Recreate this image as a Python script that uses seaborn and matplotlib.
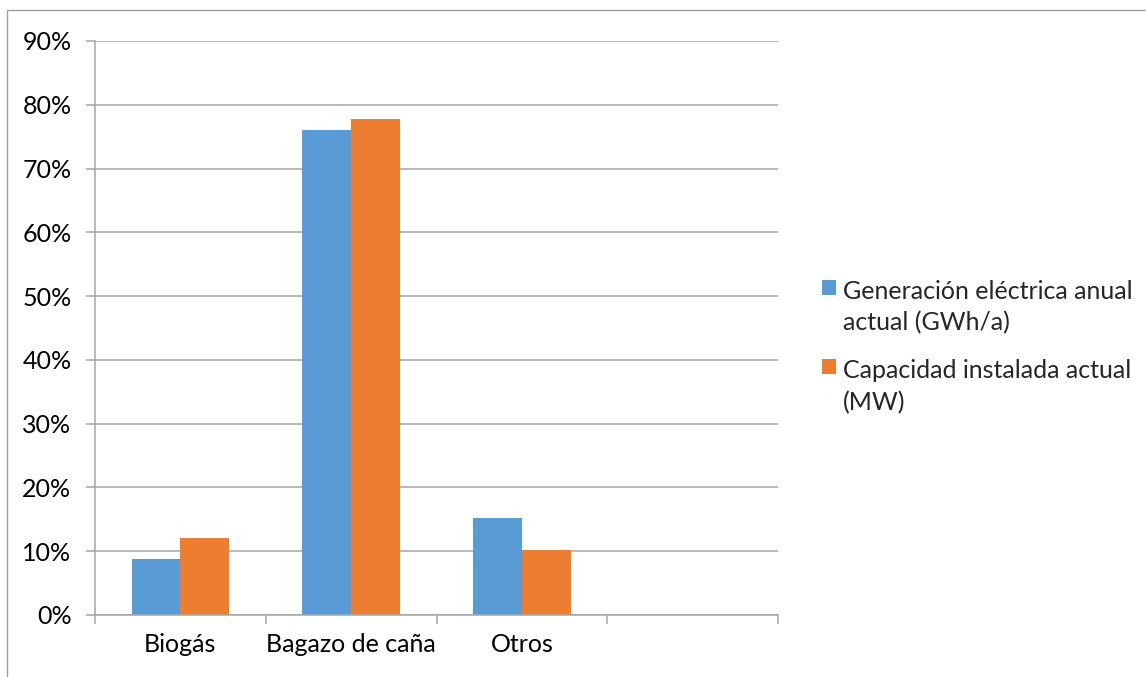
import matplotlib
matplotlib.use("Agg")
import matplotlib.pyplot as plt
import seaborn as sns
import pandas as pd
from matplotlib.ticker import PercentFormatter, FixedLocator
from matplotlib.patches import Rectangle

# ---- data ----
categories = ["Biogás", "Bagazo de caña", "Otros"]
series_names = ["Generación eléctrica anual\nactual (GWh/a)",
                "Capacidad instalada actual\n(MW)"]
generacion = [8.8, 76.0, 15.2]
capacidad = [12.0, 77.7, 10.2]
y_ticks = [0, 10, 20, 30, 40, 50, 60, 70, 80, 90]

df = pd.DataFrame({
    "categoria": categories * 2,
    "serie": [series_names[0]] * 3 + [series_names[1]] * 3,
    "valor": generacion + capacidad,
})

BLUE = "#5B9BD5"
ORANGE = "#ED7D31"
GRAY = "#A6A6A6"
FONT = "Lato"
FS = 18

sns.set_theme(style="white")
plt.rcParams["font.family"] = [FONT, "DejaVu Sans"]

fig = plt.figure(figsize=(11.46, 6.77), dpi=100)
ax = fig.add_axes([95 / 1146, 1 - 615 / 677, (778 - 95) / 1146, (615 - 41) / 677])

order = categories + [""]
sns.barplot(data=df, x="categoria", y="valor", hue="serie", order=order,
            hue_order=series_names, palette=[BLUE, ORANGE], width=0.572,
            gap=0, linewidth=0, saturation=1, ax=ax, legend=True)

ax.set_xlim(-0.5, 3.5)
ax.set_ylim(0, 90)
ax.set_yticks(y_ticks)
ax.yaxis.set_major_formatter(PercentFormatter(xmax=100, decimals=0))
ax.grid(axis="y", color=GRAY, linewidth=1.1)
ax.set_axisbelow(True)
ax.set_xlabel("")
ax.set_ylabel("")

for side in ["top", "right"]:
    ax.spines[side].set_visible(False)
for side in ["left", "bottom"]:
    ax.spines[side].set_color(GRAY)
    ax.spines[side].set_linewidth(1.1)

ax.set_xticks(range(len(order)))
ax.set_xticklabels(order)
ax.xaxis.set_minor_locator(FixedLocator([-0.5, 0.5, 1.5, 2.5, 3.5]))
ax.tick_params(axis="x", which="major", length=0, pad=13, labelsize=FS,
               labelcolor="black")
ax.tick_params(axis="x", which="minor", length=6.5, width=1.1, color=GRAY,
               direction="out", bottom=True)
ax.tick_params(axis="y", which="major", length=6.5, width=1.1, color=GRAY,
               direction="out", left=True, pad=10.5, labelsize=FS,
               labelcolor="black")

handles, labels = ax.get_legend_handles_labels()
leg = ax.legend(handles, labels, loc="upper left",
                bbox_to_anchor=(822 / 1146, 1 - 280 / 677),
                bbox_transform=fig.transFigure, frameon=False, fontsize=FS,
                borderpad=0, borderaxespad=0, handlelength=0.55,
                handleheight=0.55, handletextpad=0.3, labelspacing=1.0)
for t in leg.texts:
    t.set_linespacing(1.42)
try:
    for col in leg._legend_handle_box.get_children():
        for item in col.get_children():
            item.align = "top"
except Exception:
    pass

fig.add_artist(Rectangle((7 / 1146, -0.05), 1.1, 1 - 10 / 677 + 0.05,
                         transform=fig.transFigure, fill=False,
                         edgecolor="#A0A0A0", linewidth=1.0))

fig.savefig("out.png", dpi=100)
